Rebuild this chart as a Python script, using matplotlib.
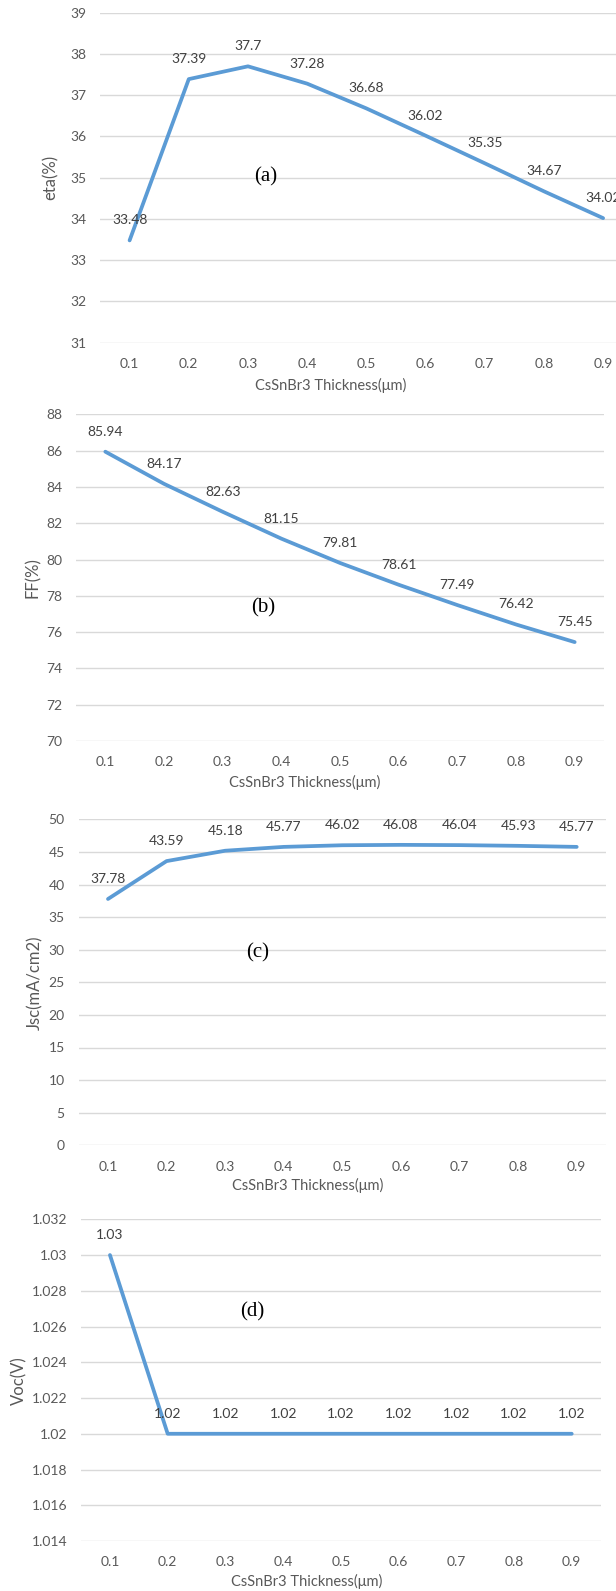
import matplotlib
matplotlib.use("Agg")
import matplotlib.pyplot as plt
from matplotlib.ticker import FuncFormatter, MultipleLocator

# ---- data ----
thickness = ["0.1", "0.2", "0.3", "0.4", "0.5", "0.6", "0.7", "0.8", "0.9"]
eta = [33.48, 37.39, 37.7, 37.28, 36.68, 36.02, 35.35, 34.67, 34.02]
ff = [85.94, 84.17, 82.63, 81.15, 79.81, 78.61, 77.49, 76.42, 75.45]
jsc = [37.78, 43.59, 45.18, 45.77, 46.02, 46.08, 46.04, 45.93, 45.77]
voc = [1.03, 1.02, 1.02, 1.02, 1.02, 1.02, 1.02, 1.02, 1.02]
voc_labels = ["1.03", "1.02", "1.02", "1.02", "1.02", "1.02", "1.02", "1.02", "1.02"]
xlabel = "CsSnBr3 Thickness(μm)"
ylabels = ["eta(%)", "FF(%)", "Jsc(mA/cm2)", "Voc(V)"]
panel_tags = ["(a)", "(b)", "(c)", "(d)"]

plt.rcParams['font.family'] = ['Lato', 'DejaVu Sans']

W, H = 616, 1591
fig = plt.figure(figsize=(W / 100, H / 100), dpi=100)

LINE = "#5B9BD5"
GRID = "#D9D9D9"
TICK = "#595959"
DLAB = "#404040"

# (left, top, right, bottom) in pixels
boxes = [
    (100, 12.7, 632.7, 342.7),
    (76, 414.3, 604, 741),
    (78.7, 819.3, 606, 1145.3),
    (81.1, 1219.3, 600.6, 1541),
]
ylims = [(31, 39, 1), (70, 88, 2), (0, 50, 5), (1.014, 1.032, 0.002)]
series = [eta, ff, jsc, voc]
labels_txt = [[f"{v:g}" for v in eta], [f"{v:g}" for v in ff],
              [f"{v:g}" for v in jsc], voc_labels]
ylabel_x = [51, 33, 35, 19.6]
tag_pos = [(266, 177), (263, 607.7), (258, 953), (252, 1312)]
xlabel_y = [385, 782.7, 1185, 1581.7]

for i in range(4):
    l, t, r, b = boxes[i]
    ax = fig.add_axes([l / W, 1 - b / H, (r - l) / W, (b - t) / H])
    xs = list(range(len(thickness)))
    ax.plot(xs, series[i], color=LINE, lw=2.7, solid_capstyle='round',
            solid_joinstyle='round', zorder=3)
    lo, hi, step = ylims[i]
    ax.set_ylim(lo, hi)
    ax.set_xlim(-0.5, len(thickness) - 0.5)
    ax.yaxis.set_major_locator(MultipleLocator(step))
    ax.yaxis.set_major_formatter(FuncFormatter(lambda v, p: f"{round(v, 4):g}"))
    ax.set_xticks(xs)
    ax.set_xticklabels(thickness)
    ax.grid(axis='y', color=GRID, lw=1.0)
    ax.set_axisbelow(True)
    for s in ax.spines.values():
        s.set_visible(False)
    ax.tick_params(axis='both', length=0, labelsize=10, labelcolor=TICK)
    ax.tick_params(axis='x', pad=11)
    ax.tick_params(axis='y', pad=10)
    for x, y, s in zip(xs, series[i], labels_txt[i]):
        ax.annotate(s, (x, y), xytext=(0, 20), textcoords='offset pixels',
                    ha='center', va='center', fontsize=10, color=DLAB,
                    annotation_clip=False)
    ax.set_ylabel(ylabels[i], fontsize=12, color=TICK)
    ax.yaxis.set_label_coords((ylabel_x[i] - l) / (r - l), 0.5)
    ax.set_xlabel(xlabel, fontsize=10.5, color=TICK)
    ax.xaxis.set_label_coords((331 - 100) / (632.7 - 100) if i == 0 else 0.434,
                              -(xlabel_y[i] - b) / (b - t))
    ax.xaxis.label.set_va('center')
    ax.yaxis.label.set_va('center')
    tx, ty = tag_pos[i]
    fig.text(tx / W, 1 - ty / H, panel_tags[i], fontsize=15,
             family='Liberation Serif', ha='center', va='center', color='black')

fig.savefig("out.png", dpi=100, facecolor='white')
